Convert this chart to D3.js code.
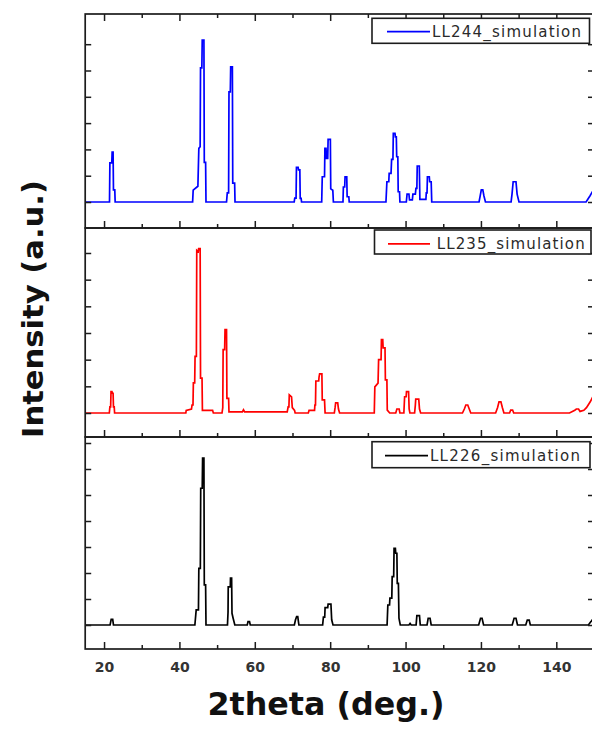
<!DOCTYPE html>
<html>
<head>
<meta charset="utf-8">
<script src="https://cdn.jsdelivr.net/npm/d3@7"></script>
<style>
  html, body { margin: 0; padding: 0; background: #fff; }
  svg { display: block; }
</style>
</head>
<body>
<svg id="chart" width="592" height="731"></svg>
<script>
// ---- data: simulated XRD profiles, [2theta (deg), intensity (counts)] ----
const sampleNames = ["LL244_simulation", "LL235_simulation", "LL226_simulation"];

const ll244Profile = [
  [15,0],
  [21.45,0],[21.55,1490],[22.05,1490],[22.15,1900],[22.4,1900],[22.5,460],[22.85,460],[22.95,0],
  [43.5,0],[43.65,450],[44.9,600],[45.15,2040],[45.5,2100],[45.6,5100],[45.95,5100],[46.05,6160],[46.5,6160],[46.6,1510],[46.95,1510],[47.05,0],
  [52.5,0],[52.7,350],[53.05,350],[53.15,4190],[53.5,4190],[53.6,5140],[54.05,5140],[54.15,720],[54.65,720],[54.75,0],
  [70.45,0],[70.6,150],[70.95,150],[71.05,1320],[71.5,1320],[71.6,1220],[71.95,1220],[72.05,140],[72.3,140],[72.4,0],
  [77.75,0],[77.9,960],[78.5,960],[78.6,2040],[78.9,2040],[79.0,1660],[79.35,1660],[79.45,2380],[80.05,2380],[80.15,500],[80.7,450],[80.85,0],
  [83.4,0],[83.5,570],[83.85,570],[83.95,960],[84.4,960],[84.5,200],[84.95,200],[85.05,0],
  [94.8,0],[95.05,770],[95.55,770],[95.65,1090],[96.15,1090],[96.3,1620],[96.65,1620],[96.75,2610],[97.2,2610],[97.3,2480],[97.55,2480],[97.65,1720],[97.95,1720],[98.05,390],[98.4,390],[98.5,0],
  [100.2,0],[100.4,300],[100.9,300],[101.05,80],[101.8,80],[101.95,300],[102.6,300],[102.75,520],[103.0,520],[103.1,1370],[103.65,1370],[103.8,100],
  [105.4,100],[105.5,350],[105.7,350],[105.8,960],[106.3,960],[106.4,770],[106.8,770],[106.95,0],
  [119.5,0],[119.8,230],[120.1,460],[120.5,460],[120.8,230],[121.2,0],
  [128.0,0],[128.25,300],[128.55,770],[129.3,770],[129.6,300],[130.1,0],
  [147.9,0],[149.0,250],[150,500]
];

const ll235Profile = [
  [15,0],
  [21.4,0],[21.55,230],[21.75,230],[21.85,800],[22.1,800],[22.2,740],[22.4,740],[22.5,230],[22.7,230],[22.8,0],
  [41.7,0],[41.8,100],[43.2,150],[43.35,300],[43.6,300],[43.7,1130],[44.05,1130],[44.15,2120],[44.5,2120],[44.6,6100],[45.0,6050],[45.1,6160],[45.5,6160],[45.6,1310],[46.0,1310],[46.1,100],[48.8,100],[49.0,0],
  [51.3,0],[51.5,200],[51.6,2380],[52.0,2380],[52.1,3130],[52.5,3130],[52.6,550],[53.05,550],[53.15,40],
  [56.7,40],[57.0,120],[57.3,40],
  [68.6,40],[68.85,230],[69.05,230],[69.15,680],[69.75,600],[69.95,200],[70.55,100],[70.7,0],
  [74.2,0],[74.4,100],[75.85,100],[75.95,300],[76.1,300],[76.2,1200],[76.95,1200],[77.05,1350],[77.2,1470],[77.8,1470],[77.9,490],[78.5,490],[78.65,0],
  [81.1,0],[81.3,200],[81.45,380],[82.0,380],[82.2,150],[82.5,0],
  [91.7,0],[91.85,980],[92.7,1120],[92.85,2000],[93.5,2000],[93.6,2750],[93.95,2750],[94.05,2440],[94.55,2440],[94.65,1240],[95.05,1240],[95.15,110],[95.8,0],
  [97.4,0],[97.7,150],[98.3,150],[98.5,0],
  [99.55,0],[99.75,610],[100.15,610],[100.25,800],[100.8,800],[100.95,150],[101.15,0],
  [102.4,0],[102.6,300],[102.7,520],[103.5,520],[103.7,150],[104.0,0],
  [115.1,0],[115.6,150],[116.0,300],[116.5,300],[116.9,150],[117.3,0],
  [123.9,0],[124.4,200],[124.8,420],[125.3,420],[125.7,200],[126.1,0],
  [127.6,0],[127.9,110],[128.4,110],[128.7,0],
  [143.5,0],[144.9,100],[145.3,150],[145.9,150],[146.3,60],[147.3,100],[148.0,200],[149.0,420],[150,700]
];

const ll226Profile = [
  [15,0],
  [21.6,0],[21.9,220],[22.3,220],[22.5,0],
  [44.1,0],[44.45,580],[45.05,580],[45.15,2180],[45.55,2180],[45.65,5260],[46.05,5260],[46.15,6420],[46.5,6420],[46.6,1540],[46.95,1540],[47.05,0],
  [52.75,0],[52.9,500],[52.95,1470],[53.5,1470],[53.55,1800],[53.85,1800],[53.95,450],[54.25,260],[54.7,0],
  [58.0,0],[58.2,130],[58.6,130],[58.8,0],
  [70.5,0],[70.8,200],[71.1,320],[71.4,320],[71.7,0],
  [78.0,0],[78.2,300],[78.55,300],[78.65,670],[79.35,670],[79.45,800],[80.2,800],[80.4,200],[80.75,0],
  [95.1,0],[95.3,770],[95.75,770],[95.85,1030],[96.35,1030],[96.45,1860],[96.85,1860],[96.95,2950],[97.3,2950],[97.4,2760],[97.7,2760],[97.8,1600],[98.1,1600],[98.25,260],[98.6,0],
  [100.9,0],[101.2,60],[101.5,0],
  [102.8,0],[103.0,360],[103.7,360],[103.9,0],
  [105.7,0],[106.0,260],[106.5,260],[106.8,0],
  [119.4,0],[119.9,260],[120.3,260],[120.7,0],
  [128.3,0],[128.8,260],[129.3,260],[129.7,0],
  [131.9,0],[132.3,190],[132.8,190],[133.1,0],
  [148.5,0],[149.2,130],[150,300]
];

const xDomain = [15, 150];
const xMajorTicks = [20, 40, 60, 80, 100, 120, 140];
const xMinorTicks = [30, 50, 70, 90, 110, 130, 150];
const yTickValues = [0, 1000, 2000, 3000, 4000, 5000, 6000, 7000];
const yDomains = [[-988, 7148], [-900, 6937], [-923, 7231]];

// ---- layout & style ----
const profiles = [ll244Profile, ll235Profile, ll226Profile];
const colors = ["#0000ff", "#ff0000", "#000000"];
const plotLeft = 85.2, plotRight = 594;
const panelBands = [[14, 228], [228, 437], [437, 649]];
const legendBoxes = [
  { x: 372, y: 18.3, w: 217.5, h: 25, lx1: 387, lx2: 430, ly: 31.7, tx: 432, ty: 36.6, tl: 149 },
  { x: 374.5, y: 230, w: 216.5, h: 24, lx1: 388, lx2: 430, ly: 243.8, tx: 436.7, ty: 249.3, tl: 148 },
  { x: 372, y: 441.7, w: 218, h: 26, lx1: 385, lx2: 428, ly: 455.7, tx: 430, ty: 460.6, tl: 150 }
];
const ink = "#1c1c1c";
const font = "'DejaVu Sans', Verdana, sans-serif";

const svg = d3.select("#chart");
const x = d3.scaleLinear().domain(xDomain).range([plotLeft, plotRight]);

panelBands.forEach(([top, bottom], i) => {
  const y = d3.scaleLinear().domain(yDomains[i]).range([bottom, top]);
  const g = svg.append("g");

  // profile
  const line = d3.line().x(d => x(d[0])).y(d => y(d[1])).curve(d3.curveLinear);
  g.append("path")
    .datum(profiles[i])
    .attr("fill", "none")
    .attr("stroke", colors[i])
    .attr("stroke-width", 1.7)
    .attr("stroke-linejoin", "miter")
    .attr("d", line);

  const styleAxis = sel => {
    sel.select(".domain").remove();
    sel.selectAll(".tick line").attr("stroke", ink).attr("stroke-width", 1.5);
  };

  const yTicks = yTickValues.filter(v => y(v) > top + 5 && y(v) < bottom - 5);

  // left and right y ticks (inward)
  g.append("g").attr("transform", `translate(${plotLeft},0)`)
    .call(d3.axisLeft(y).tickValues(yTicks).tickSize(-6).tickFormat(""))
    .call(styleAxis);
  g.append("g").attr("transform", `translate(${plotRight},0)`)
    .call(d3.axisRight(y).tickValues(yTicks).tickSize(-6).tickFormat(""))
    .call(styleAxis);

  // bottom x ticks (inward)
  const isLast = i === panelBands.length - 1;
  const bottomMajor = d3.axisBottom(x).tickValues(xMajorTicks).tickSize(-7);
  if (isLast) bottomMajor.tickPadding(13); else bottomMajor.tickFormat("");
  const bm = g.append("g").attr("transform", `translate(0,${bottom})`).call(bottomMajor).call(styleAxis);
  if (isLast) {
    bm.selectAll(".tick text")
      .attr("font-family", font).attr("font-weight", "bold")
      .attr("font-size", 14).attr("fill", "#333");
  }
  g.append("g").attr("transform", `translate(0,${bottom})`)
    .call(d3.axisBottom(x).tickValues(xMinorTicks).tickSize(-4).tickFormat(""))
    .call(styleAxis);

  // top x ticks on the first panel
  if (i === 0) {
    g.append("g").attr("transform", `translate(0,${top})`)
      .call(d3.axisTop(x).tickValues(xMajorTicks).tickSize(-7).tickFormat(""))
      .call(styleAxis);
    g.append("g").attr("transform", `translate(0,${top})`)
      .call(d3.axisTop(x).tickValues(xMinorTicks).tickSize(-4).tickFormat(""))
      .call(styleAxis);
  }

  // panel frame
  g.append("rect")
    .attr("x", plotLeft).attr("y", top)
    .attr("width", plotRight - plotLeft).attr("height", bottom - top)
    .attr("fill", "none").attr("stroke", ink).attr("stroke-width", 1.7);

  // legend
  const lb = legendBoxes[i];
  const lg = g.append("g");
  lg.append("rect")
    .attr("x", lb.x).attr("y", lb.y).attr("width", lb.w).attr("height", lb.h)
    .attr("fill", "#fff").attr("stroke", ink).attr("stroke-width", 1.6);
  lg.append("line")
    .attr("x1", lb.lx1).attr("x2", lb.lx2).attr("y1", lb.ly).attr("y2", lb.ly)
    .attr("stroke", colors[i]).attr("stroke-width", 1.8);
  lg.append("text")
    .attr("x", lb.tx).attr("y", lb.ty)
    .attr("font-family", font).attr("font-size", 15)
    .attr("fill", "#2a2a2a")
    .attr("textLength", lb.tl).attr("lengthAdjust", "spacing")
    .text(sampleNames[i]);
});

// axis titles
svg.append("text")
  .attr("x", 326).attr("y", 715)
  .attr("text-anchor", "middle")
  .attr("font-family", font).attr("font-weight", "bold").attr("font-size", 31.5)
  .attr("fill", "#111")
  .attr("textLength", 237).attr("lengthAdjust", "spacingAndGlyphs")
  .text("2theta (deg.)");

svg.append("text")
  .attr("transform", "translate(43.3,309) rotate(-90)")
  .attr("text-anchor", "middle")
  .attr("font-family", font).attr("font-weight", "bold").attr("font-size", 28)
  .attr("fill", "#111")
  .attr("textLength", 258).attr("lengthAdjust", "spacingAndGlyphs")
  .text("Intensity (a.u.)");
</script>
</body>
</html>
